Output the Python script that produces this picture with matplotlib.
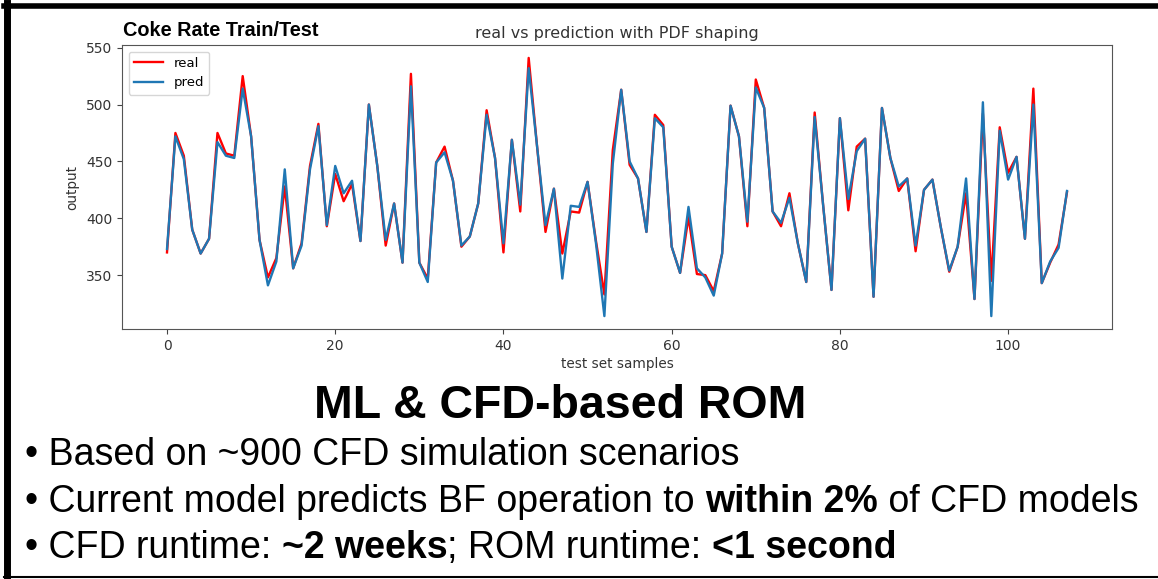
import matplotlib
matplotlib.use("Agg")
import matplotlib.pyplot as plt
from matplotlib.lines import Line2D

# values (test set samples 0..107)
real = [370, 475, 455, 390, 369, 382, 475, 457, 455, 525,
        472, 381, 348, 365, 428, 356, 378, 446, 483, 393,
        439, 415, 430, 380, 500, 446, 376, 413, 361, 527,
        361, 347, 449, 463, 433, 375, 384, 413, 495, 453,
        370, 469, 406, 541, 463, 388, 426, 369, 406, 405,
        432, 380, 333, 460, 513, 447, 435, 388, 491, 482,
        375, 352, 401, 351, 350, 336, 369, 499, 472, 393,
        522, 497, 406, 393, 422, 378, 344, 493, 412, 337,
        488, 407, 463, 470, 331, 497, 453, 424, 435, 371,
        425, 434, 392, 353, 375, 422, 329, 492, 345, 480,
        440, 454, 382, 514, 343, 361, 377, 423]
pred = [373, 472, 452, 390, 369, 382, 467, 455, 453, 514,
        472, 381, 341, 362, 443, 356, 376, 443, 481, 394,
        446, 422, 433, 380, 500, 446, 381, 413, 361, 516,
        361, 344, 449, 458, 433, 376, 384, 413, 491, 453,
        378, 469, 412, 532, 463, 394, 426, 347, 411, 410,
        432, 378, 314, 448, 513, 450, 435, 388, 488, 480,
        375, 352, 410, 356, 348, 332, 369, 499, 472, 397,
        515, 497, 406, 396, 418, 378, 344, 489, 412, 337,
        488, 417, 459, 470, 331, 497, 453, 428, 435, 376,
        425, 434, 392, 354, 375, 435, 329, 502, 314, 477,
        434, 454, 382, 500, 343, 362, 374, 424]
samples = list(range(len(real)))

heading = "Coke Rate Train/Test"
big_title = "ML & CFD-based ROM"
bullets = [
    [("• Based on ~900 CFD simulation scenarios", "normal")],
    [("• Current model predicts BF operation to ", "normal"), ("within 2%", "bold"),
     (" of CFD models", "normal")],
    [("• CFD runtime: ", "normal"), ("~2 weeks", "bold"), ("; ROM runtime: ", "normal"),
     ("<1 second", "bold")],
]

W, H = 1158, 579
fig = plt.figure(figsize=(W / 100, H / 100), dpi=100)
fig.patch.set_facecolor("white")


def fx(px):
    return px / W


def fy(py):
    return 1 - py / H


# the chart itself
ax = fig.add_axes([fx(122), fy(329), fx(1112) - fx(122), fy(45) - fy(329)])
ax.plot(samples, real, color="red", lw=1.7, label="real")
ax.plot(samples, pred, color="#1f77b4", lw=1.7, label="pred")
ax.set_title("real vs prediction with PDF shaping", fontsize=11.5, color="#333333", pad=5)
ax.set_xlabel("test set samples", fontsize=9.8, color="#333333", labelpad=3)
ax.set_ylabel("output", fontsize=9.8, color="#333333", labelpad=5)
ax.set_yticks([350, 400, 450, 500, 550])
ax.set_xticks([0, 20, 40, 60, 80, 100])
ax.tick_params(labelsize=10, colors="#444444", labelcolor="#333333")
for s in ax.spines.values():
    s.set_color("#555555")
ax.legend(loc="upper left", fontsize=9.5, handlelength=2.2)

# slide text around the chart
sans = ["Liberation Sans", "DejaVu Sans"]
fig.text(fx(123), fy(36), heading, fontsize=14.3, fontweight="bold",
         family=sans, va="baseline", ha="left")
fig.text(fx(560), fy(418), big_title, fontsize=33.5, fontweight="bold",
         family=sans, va="baseline", ha="center")

renderer = fig.canvas.get_renderer()


def seg_width(txt, weight, size):
    # measure with bars on both sides so spaces at the ends are counted
    t1 = fig.text(0, 0, "|" + txt + "|", fontsize=size, fontweight=weight, family=sans)
    t2 = fig.text(0, 0, "||", fontsize=size, fontweight=weight, family=sans)
    w = t1.get_window_extent(renderer).width - t2.get_window_extent(renderer).width
    t1.remove()
    t2.remove()
    return w


baselines = [465, 512, 558]
for line, base in zip(bullets, baselines):
    x = 25
    for txt, weight in line:
        fig.text(fx(x), fy(base), txt, fontsize=27, fontweight=weight,
                 family=sans, va="baseline", ha="left")
        x += seg_width(txt, weight, 27)

# black frame of the slide picture
fig.add_artist(Line2D([fx(6.5), fx(6.5)], [fy(3), fy(577)], color="black", lw=5))
fig.add_artist(Line2D([fx(4), fx(1158)], [fy(5.5), fy(5.5)], color="black", lw=4))
fig.add_artist(Line2D([fx(4), fx(1158)], [fy(576.5), fy(576.5)], color="black", lw=1.5))

fig.savefig("out.png", dpi=100)
